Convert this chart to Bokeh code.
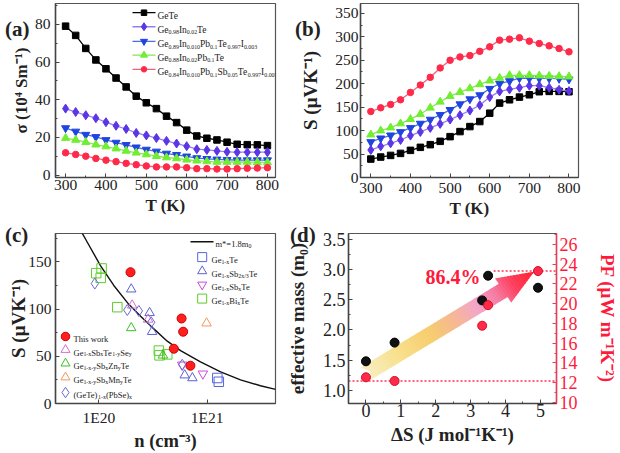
import re
import math
from bokeh.plotting import figure
from bokeh.layouts import column, row
from bokeh.models import (Range1d, LinearAxis, SingleIntervalTicker, FixedTicker,
                          PrintfTickFormatter, CustomJSTickFormatter, Label,
                          ColumnDataSource, Div)
from bokeh.embed import file_html
from bokeh.resources import INLINE
from bokeh.core.properties import value, field

# ------------------------------------------------------------------ data
T = [300, 325, 350, 375, 400, 425, 450, 475, 500, 525, 550, 575, 600,
     625, 650, 675, 700, 725, 750, 775, 800]

sig_gete = [79, 74.1, 67.2, 61.1, 56.4, 51.5, 46.8, 41.9, 38.4, 35.3, 31.3,
            27.9, 23.9, 20.8, 19.6, 18.7, 17.5, 16.4, 16.2, 16.1, 15.7]
sig_in = [35.3, 33.5, 31.8, 30.2, 28.1, 26.2, 24.5, 22.4, 21.1, 19.7, 18.2,
          16.8, 15.4, 13.8, 13.4, 12.9, 12.4, 12.2, 12.2, 12.2, 12.2]
sig_inpbi = [25.0, 23.2, 21.5, 20.3, 18.7, 17.3, 16.1, 14.8, 13.6, 12.6, 11.5,
             10.8, 10.0, 9.1, 8.7, 8.4, 8.2, 8.0, 8.0, 8.0, 8.0]
sig_inpb = [19.7, 18.7, 17.5, 16.2, 15.2, 14.1, 12.9, 11.9, 11.0, 10.1, 9.4,
            8.9, 8.2, 7.7, 7.3, 7.0, 7.0, 7.0, 7.0, 6.9, 6.8]
sig_all = [11.9, 11.0, 10.1, 8.9, 8.0, 7.2, 6.3, 5.6, 4.9, 4.4, 4.4,
           4.4, 4.0, 3.5, 3.5, 3.3, 3.3, 3.5, 3.7, 3.8, 4.0]

S_gete = [39.3, 43.6, 47.1, 51.4, 57.9, 64.3, 70, 77.1, 87.1, 97.9, 108.6,
          119.3, 137.1, 158.6, 165.7, 171.4, 176.4, 182.9, 183.6, 183.6, 182.9]
S_in = [58.6, 66.4, 72.9, 80, 89.3, 97.1, 105.7, 114.3, 123.6, 132.9, 142.9,
        154.3, 171.4, 183.6, 187.9, 191.4, 195.7, 195.7, 191.4, 187.1, 184.3]
S_inpbi = [75.7, 83.6, 90, 97.1, 105.7, 115, 123.6, 133.6, 144.3, 156.4, 167.1,
           175.7, 189.3, 200, 205.7, 212.1, 211.4, 211.4, 211.4, 210.7, 209.3]
S_inpb = [91.4, 100, 106.4, 115, 124.3, 135, 148.6, 161.4, 173.6, 182.1, 190,
          198.6, 206.4, 212.1, 217.9, 217.9, 217.9, 217, 216.4, 215.7, 215]
S_all = [140.7, 148.6, 155.7, 165.7, 181.4, 197.1, 213.6, 233.6, 250, 257, 260,
         269, 278.6, 292.9, 295, 297.9, 290.7, 285.7, 280.7, 275, 267.9]

labels_a = ["GeTe",
            "Ge_{0.98}In_{0.02}Te",
            "Ge_{0.89}In_{0.010}Pb_{0.1}Te_{0.997}I_{0.003}",
            "Ge_{0.88}In_{0.02}Pb_{0.1}Te",
            "Ge_{0.84}In_{0.010}Pb_{0.1}Sb_{0.05}Te_{0.997}I_{0.005}"]

# panel (c): carrier concentration (cm^-3) vs Seebeck (uV/K)
n_curve = [6.44e19, 7.8e19, 1.035e20, 1.374e20, 1.89e20, 2.43e20, 3.22e20,
           4.28e20, 5.68e20, 8.67e20, 1.33e21, 2.03e21, 3.10e21, 4.28e21]
S_curve = [188, 171, 146, 125, 105, 92.5, 79, 66, 56, 44, 33.5, 25, 18.8, 15]

n_this = [1.96e20, 5.8e20, 6.0e20, 4.92e20, 7.0e20]
S_this = [139, 90, 76, 58, 40]
n_ge1x = [1.24e21, 1.28e21]
S_ge1x = [27, 23]
n_sb23 = [1.99e20, 2.94e20, 3.1e20, 6.2e20, 7.3e20]
S_sb23 = [121, 96, 76, 30, 27]
n_sbx = [5.88e20, 9.12e20]
S_sbx = [41, 31.5]
n_bi = [9.45e19, 1.06e20, 1.04e20, 1.48e20, 3.58e20, 3.63e20, 4.28e20]
S_bi = [138, 143, 133, 102, 56, 51, 52]
n_sbse = [2.03e20, 2.85e20]
S_sbse = [104, 89]
n_zn = [1.99e20, 3.9e20]
S_zn = [80, 51]
n_mn = [9.87e20]
S_mn = [85]
n_pbse = [9.18e19, 1.83e20, 2.34e20, 3.04e20, 5.88e20]
S_pbse = [127, 99, 98, 86, 41]

# panel (d)
dS = [0, 0.82, 3.33, 3.5, 4.93]
mass = [1.48, 1.79, 2.49, 2.90, 2.70]
PF = [12.55, 12.18, 17.77, 19.85, 23.3]
gain_text = "86.4%"
panel_tags = ["(a)", "(b)", "(c)", "(d)"]

# ------------------------------------------------------------------ helpers
FONT = "Liberation Serif"
INK = "#222222"

WID = {'A': 722, 'B': 667, 'C': 667, 'D': 722, 'E': 611, 'F': 556, 'G': 722, 'H': 722,
       'I': 333, 'J': 389, 'K': 722, 'L': 611, 'M': 889, 'N': 722, 'O': 722, 'P': 556,
       'Q': 722, 'R': 667, 'S': 556, 'T': 611, 'U': 722, 'V': 722, 'W': 944, 'X': 722,
       'Y': 722, 'Z': 611, 'a': 444, 'b': 500, 'c': 444, 'd': 500, 'e': 444, 'f': 333,
       'g': 500, 'h': 500, 'i': 278, 'j': 278, 'k': 500, 'l': 278, 'm': 778, 'n': 500,
       'o': 500, 'p': 500, 'q': 500, 'r': 333, 's': 389, 't': 278, 'u': 500, 'v': 500,
       'w': 722, 'x': 500, 'y': 500, 'z': 444, '.': 250, ',': 250, ' ': 250, '-': 333,
       '(': 333, ')': 333, '/': 278, '*': 500, '=': 564, '%': 833}


def twidth(s, fs):
    return sum(WID.get(c, 500) for c in s) * fs / 1000.0


def parse(s):
    parts, pos = [], 0
    for m in re.finditer(r"_\{([^}]*)\}", s):
        if m.start() > pos:
            parts.append((s[pos:m.start()], 0))
        parts.append((m.group(1), 1))
        pos = m.end()
    if pos < len(s):
        parts.append((s[pos:], 0))
    return parts


class Geo:
    """maps page pixels to data coordinates of one figure"""
    def __init__(self, ox, oy, w, h, bl, br, bt, bb, xr, yr, logx=False):
        self.ox, self.oy, self.w, self.h = ox, oy, w, h
        self.bl, self.bt = bl, bt
        self.fw, self.fh = w - bl - br, h - bt - bb
        self.xr, self.yr, self.logx = xr, yr, logx

    def local(self, X, Y):
        return X - self.ox, Y - self.oy

    def dx(self, lx):
        t = (lx - self.bl) / self.fw
        if self.logx:
            a, b = math.log10(self.xr[0]), math.log10(self.xr[1])
            return 10 ** (a + t * (b - a))
        return self.xr[0] + t * (self.xr[1] - self.xr[0])

    def dy(self, ly, yr=None):
        yr = yr or self.yr
        t = (ly - self.bt) / self.fh
        return yr[1] - t * (yr[1] - yr[0])

    def data(self, X, Y, yr=None):
        lx, ly = self.local(X, Y)
        return self.dx(lx), self.dy(ly, yr)


def style_axis(ax, color="#444444", label_color=INK, tick_fs="15.5px", title_fs="17px"):
    ax.axis_line_color = color
    ax.axis_line_width = 1.5
    ax.major_tick_line_color = color
    ax.minor_tick_line_color = color
    ax.major_tick_in = 4
    ax.major_tick_out = 0
    ax.minor_tick_in = 2
    ax.minor_tick_out = 0
    ax.major_label_text_font = FONT
    ax.major_label_text_font_size = tick_fs
    ax.major_label_text_color = label_color
    ax.axis_label_text_font = FONT
    ax.axis_label_text_font_style = "bold"
    ax.axis_label_text_font_size = title_fs
    ax.axis_label_text_color = label_color


def make_fig(ox, oy, w, h, bl, br, bt, bb, xr, yr, logx=False):
    p = figure(width=w, height=h, x_range=Range1d(*xr), y_range=Range1d(*yr),
               x_axis_type="log" if logx else "linear",
               output_backend="svg", toolbar_location=None,
               min_border_left=bl, min_border_right=br,
               min_border_top=bt, min_border_bottom=bb)
    p.xgrid.visible = False
    p.ygrid.visible = False
    p.outline_line_color = "#555555"
    p.outline_line_width = 1.2
    p.border_fill_color = None
    p.background_fill_color = "white"
    for ax in p.xaxis + p.yaxis:
        style_axis(ax)
    return p, Geo(ox, oy, w, h, bl, br, bt, bb, xr, yr, logx)


def set_standoffs(ax, s1, s2):
    ax.major_label_standoff = s1
    ax.axis_label_standoff = s2


def add_rich(p, geo, entries, color=INK, sub_ratio=0.68):
    xs, ys, ts, fss = [], [], [], []
    for (X, Y, s, fs) in entries:
        lx, ly = geo.local(X, Y)
        cx = lx
        for txt, k in parse(s):
            f = fs if k == 0 else fs * sub_ratio
            base = ly + 0.33 * fs + (0.24 * fs if k == 1 else 0.0)
            xs.append(geo.dx(cx))
            ys.append(geo.dy(base))
            ts.append(txt)
            fss.append("%.1fpx" % f)
            cx += twidth(txt, f)
    src = ColumnDataSource(dict(x=xs, y=ys, text=ts, fs=fss))
    p.text(x="x", y="y", text="text", source=src, text_font=value(FONT),
           text_font_size=field("fs"), text_baseline="alphabetic",
           text_align="left", text_color=color)


# ------------------------------------------------------------------ figures
pa, ga = make_fig(0, 0, 297, 222, 55, 22, 3, 43, (275, 820), (-1.2, 91))
pb, gb = make_fig(297, 0, 323, 222, 61, 42, 3, 45, (274, 824), (0, 371))
pc, gc = make_fig(0, 222, 283, 231, 55, 8, 11, 45, (3.98e19, 4.27e21), (0, 180), logx=True)
pd, gd = make_fig(283, 222, 337, 231, 62, 60, 1, 45, (-0.5, 5.46), (0.78, 3.6))

# ---- panels (a) and (b)
series = [
    (sig_gete, S_gete, "square", "#000000", "#000000", 6.5),
    (sig_in, S_in, "diamond", "#5b35e6", "#9580ee", 9),
    (sig_inpbi, S_inpbi, "inverted_triangle", "#1f45e0", "#4b6ee2", 8),
    (sig_inpb, S_inpb, "triangle", "#70ee30", "#86e45c", 8),
    (sig_all, S_all, "circle", "#ff2a4a", "#f2607e", 6.5),
]
for sig, see, mk, mcol, lcol, sz in series:
    pa.line(T, sig, line_color=lcol, line_width=1.3)
    pa.scatter(T, sig, marker=mk, size=sz, fill_color=mcol, line_color=mcol)
    pb.line(T, see, line_color=lcol, line_width=1.3)
    pb.scatter(T, see, marker=mk, size=sz, fill_color=mcol, line_color=mcol)

pa.xaxis.axis_label = "T (K)"
pa.yaxis.axis_label = "σ (10⁴ Sm⁻¹)"
pa.xaxis.ticker = SingleIntervalTicker(interval=100, num_minor_ticks=2)
pa.yaxis.ticker = SingleIntervalTicker(interval=20, num_minor_ticks=2)
set_standoffs(pa.xaxis[0], 2, 3)
set_standoffs(pa.yaxis[0], 5, 1)

rows_a = [12.3, 26.5, 41.3, 55.2, 69.6]
entries = []
for (sig, see, mk, mcol, lcol, sz), yrow, lab in zip(series, rows_a, labels_a):
    x0, y0 = ga.data(132, yrow)
    x1, _ = ga.data(155, yrow)
    xm, _ = ga.data(143.5, yrow)
    pa.line([x0, x1], [y0, y0], line_color=lcol, line_width=1.3)
    pa.scatter([xm], [y0], marker=mk, size=sz - 1, fill_color=mcol, line_color=mcol)
    entries.append((157, yrow, lab, 9.5))
add_rich(pa, ga, entries, sub_ratio=0.62)

pb.xaxis.axis_label = "T (K)"
pb.yaxis.axis_label = "S (μVK⁻¹)"
pb.xaxis.ticker = SingleIntervalTicker(interval=100, num_minor_ticks=2)
pb.yaxis.ticker = SingleIntervalTicker(interval=50, num_minor_ticks=2)
pb.yaxis.axis_label_text_font_size = "19px"
set_standoffs(pb.xaxis[0], 5, 3)
set_standoffs(pb.yaxis[0], 2, 11)

# ---- panel (c)
pc.line(n_curve, S_curve, line_color="#111111", line_width=1.4)
groups_c = [
    (n_ge1x, S_ge1x, "square", "#5566dd", False, "Ge_{1-x}Te"),
    (n_sb23, S_sb23, "triangle", "#5a62d2", False, "Ge_{1-x}Sb_{2x/3}Te"),
    (n_sbx, S_sbx, "inverted_triangle", "#c84ad8", False, "Ge_{1-x}Sb_{x}Te"),
    (n_bi, S_bi, "square", "#5ccc2a", False, "Ge_{1-x}Bi_{x}Te"),
    (n_this, S_this, "circle", "#ff1f1f", True, "This work"),
    (n_sbse, S_sbse, "triangle", "#d070d0", False, "Ge_{1-x}Sb_{x}Te_{1-y}Se_{y}"),
    (n_zn, S_zn, "triangle", "#3cbf2a", False, "Ge_{1-x-y}Sb_{x}Zn_{y}Te"),
    (n_mn, S_mn, "triangle", "#f5965a", False, "Ge_{1-x-y}Sb_{x}Mn_{y}Te"),
    (n_pbse, S_pbse, "diamond", "#6a6ad0", False, "(GeTe)_{1-x}(PbSe)_{x}"),
]
for nn, ss, mk, col, filled, lab in groups_c:
    if filled:
        pc.scatter(nn, ss, marker=mk, size=9, fill_color=col, line_color="#cc0000")
    else:
        sz = 11 if mk == "diamond" else 9.5
        pc.scatter(nn, ss, marker=mk, size=sz, fill_alpha=0, line_color=col, line_width=1)

pc.xaxis.axis_label = "n (cm⁻³)"
pc.yaxis.axis_label = "S (μVK⁻¹)"
pc.xaxis.ticker = FixedTicker(ticks=[1e20, 1e21])
pc.xaxis.formatter = CustomJSTickFormatter(code="return '1E' + Math.round(Math.log10(tick));")
pc.yaxis.ticker = SingleIntervalTicker(interval=50, num_minor_ticks=2)
pc.xaxis.axis_label_text_font_size = "18.5px"
pc.yaxis.axis_label_text_font_size = "19px"
set_standoffs(pc.xaxis[0], 5, 2)
set_standoffs(pc.yaxis[0], 4, -4)

lx0, ly0 = gc.data(190, 241.5)
lx1, _ = gc.data(213, 241.5)
pc.line([lx0, lx1], [ly0, ly0], line_color="#111111", line_width=1.4)
ent_c = [(215, 241.5, "m*=1.8m_{0}", 8.5)]
rows_tr = [257.3, 271.7, 285.7, 300.0]
rows_bl = [339.0, 352.7, 366.7, 381.0, 396.7]
for g, yrow in zip(groups_c[:4], rows_tr):
    nn, ss, mk, col, filled, lab = g
    mx, my = gc.data(201.7, yrow)
    pc.scatter([mx], [my], marker=mk, size=9, fill_alpha=0, line_color=col, line_width=1)
    ent_c.append((211, yrow, lab, 8.5))
for g, yrow in zip(groups_c[4:], rows_bl):
    nn, ss, mk, col, filled, lab = g
    mx, my = gc.data(65, yrow)
    if filled:
        pc.scatter([mx], [my], marker=mk, size=8.5, fill_color=col, line_color="#cc0000")
    else:
        sz = 10.5 if mk == "diamond" else 9
        pc.scatter([mx], [my], marker=mk, size=sz, fill_alpha=0, line_color=col, line_width=1)
    ent_c.append((73, yrow, lab, 8.5))
add_rich(pc, gc, ent_c, sub_ratio=0.7)

# ---- panel (d)
PF_RANGE = (9.9, 27.1)
pd.extra_y_ranges = {"pf": Range1d(*PF_RANGE)}

tail = (362.0, 376.0)
tip = (537.0, 264.5)
L = math.hypot(tip[0] - tail[0], tip[1] - tail[1])
ux, uy = (tip[0] - tail[0]) / L, (tip[1] - tail[1]) / L
nx, ny = -uy, ux
HL, HW, SW = 38.0, 15.5, 8.5
arrow_uv = [(0, -SW), (L - HL, -SW), (L - HL, -HW), (L, 0), (L - HL, HW),
            (L - HL, SW), (0, SW), (6, 0)]


def clip_half(pts, keep, cval):
    out = []
    n = len(pts)
    for i in range(n):
        A, B = pts[i], pts[(i + 1) % n]
        ka, kb = keep(A), keep(B)
        if ka:
            out.append(A)
        if ka != kb:
            t = (cval - A[0]) / (B[0] - A[0])
            out.append((cval, A[1] + t * (B[1] - A[1])))
    return out


stops = [(0.0, (248, 238, 196)), (0.18, (248, 224, 140)), (0.38, (247, 204, 104)),
         (0.52, (245, 182, 140)), (0.66, (242, 162, 200)), (0.78, (245, 115, 155)),
         (0.88, (255, 55, 85)), (1.0, (255, 22, 40))]


def grad(t):
    for (t0, c0), (t1, c1) in zip(stops[:-1], stops[1:]):
        if t <= t1:
            f = (t - t0) / (t1 - t0)
            return "#%02x%02x%02x" % tuple(int(round(a + f * (b - a))) for a, b in zip(c0, c1))
    return "#%02x%02x%02x" % stops[-1][1]


NS = 70
axs, ays, acols = [], [], []
for i in range(NS):
    u0 = L * i / NS
    u1 = min(L, L * (i + 1) / NS + 0.8)
    pts = clip_half(arrow_uv, lambda P: P[0] >= u0, u0)
    if not pts:
        continue
    pts = clip_half(pts, lambda P: P[0] <= u1, u1)
    if len(pts) < 3:
        continue
    xs_, ys_ = [], []
    for (u, v) in pts:
        X = tail[0] + u * ux + v * nx
        Y = tail[1] + u * uy + v * ny
        dx_, dy_ = gd.data(X, Y)
        xs_.append(dx_)
        ys_.append(dy_)
    axs.append(xs_)
    ays.append(ys_)
    acols.append(grad((i + 0.5) / NS))
pd.patches(axs, ays, fill_color=acols, line_color=None, fill_alpha=0.95)

xa, xb = pd.x_range.start, pd.x_range.end
pd.line([xa, xb], [min(PF), min(PF)], y_range_name="pf", line_color="#ff3355",
        line_dash="2 2", line_width=1.5)
x_start_hi, _ = gd.data(495, 264)
pd.line([x_start_hi, xb], [max(PF), max(PF)], y_range_name="pf", line_color="#ff3355",
        line_dash="2 2", line_width=1.5)

pd.scatter(dS, mass, marker="circle", size=9, fill_color="#111111", line_color="#000000")
pd.scatter(dS, PF, marker="circle", size=9, fill_color="#ff2a4a", line_color="#d0102a",
           y_range_name="pf")

tx, ty = gd.data(453, 270)
pd.add_layout(Label(x=tx, y=ty, text=gain_text, text_font=FONT, text_font_style="bold",
                    text_font_size="20px", text_color="#ff1a3c", text_align="center",
                    text_baseline="middle"))

pd.xaxis.axis_label = "ΔS (J mol⁻¹K⁻¹)"
pd.yaxis.axis_label = "effective mass (m₀)"
pd.xaxis.ticker = SingleIntervalTicker(interval=1, num_minor_ticks=2)
pd.yaxis.ticker = SingleIntervalTicker(interval=0.5, num_minor_ticks=2)
pd.yaxis.formatter = PrintfTickFormatter(format="%.1f")
for ax in (pd.xaxis[0], pd.yaxis[0]):
    ax.major_label_text_font_size = "18px"
    ax.axis_label_text_font_size = "19px"
set_standoffs(pd.xaxis[0], 0, 4)
set_standoffs(pd.yaxis[0], 3, 12)

ax_r = LinearAxis(y_range_name="pf", axis_label="PF (μW m⁻¹K⁻²)")
style_axis(ax_r, color="#f03a5a", label_color="#ff1a3c", tick_fs="18px", title_fs="19px")
ax_r.ticker = SingleIntervalTicker(interval=2, num_minor_ticks=2)
set_standoffs(ax_r, 3, 16)
pd.add_layout(ax_r, "right")

# ---- panel tags: zero-height overlay placed before the figures
tag_pos = [(5, 17), (295, 17), (5, 223), (290, 223)]
spans = []
for txt, (X, Yc) in zip(panel_tags, tag_pos):
    spans.append('<span style="position:absolute;left:%.1fpx;top:%.1fpx;'
                 'font-family:\'Liberation Serif\';font-weight:bold;font-size:21px;'
                 'line-height:22px;color:%s;white-space:nowrap;">%s</span>'
                 % (X, Yc - 11, INK, txt))
tag_div = Div(text='<div style="position:relative;width:0;height:0;">' + "".join(spans) + "</div>",
              width=620, height=0, margin=(0, 0, 0, 0), styles={"overflow": "visible"})

layout = column(tag_div, row(pa, pb), row(pc, pd))
open("out.html", "w").write(file_html(layout, INLINE))
